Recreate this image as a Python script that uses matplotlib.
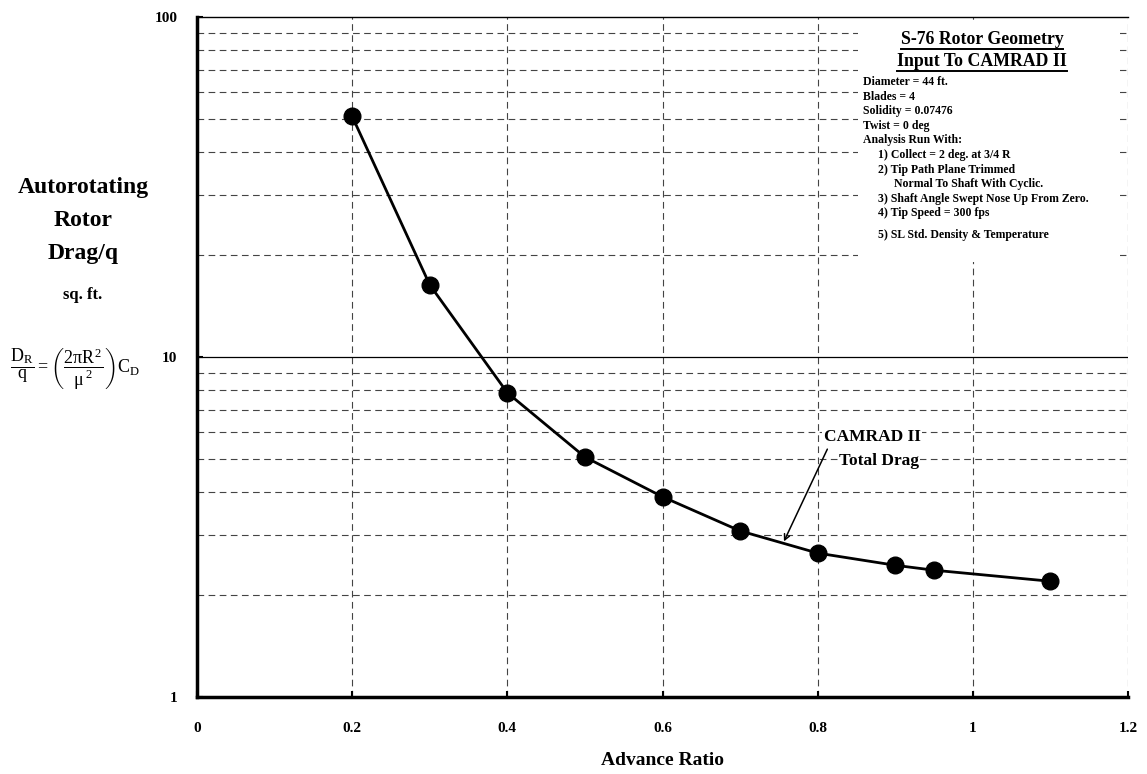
import matplotlib
matplotlib.use("Agg")
import matplotlib.pyplot as plt
from matplotlib.lines import Line2D
from matplotlib.patches import Rectangle

plt.rcParams['font.family'] = ['Liberation Serif', 'DejaVu Serif']
plt.rcParams['mathtext.fontset'] = 'custom'
plt.rcParams['mathtext.rm'] = 'Liberation Serif'
plt.rcParams['mathtext.it'] = 'Liberation Serif'

# data
advance_ratio = [0.2, 0.3, 0.4, 0.5, 0.6, 0.7, 0.8, 0.9, 0.95, 1.1]
drag_q = [51.0, 16.3, 7.85, 5.08, 3.88, 3.08, 2.65, 2.44, 2.36, 2.19]

x_ticks = [0, 0.2, 0.4, 0.6, 0.8, 1.0, 1.2]
x_tick_labels = ['0', '0.2', '0.4', '0.6', '0.8', '1', '1.2']
y_ticks = [1, 10, 100]
y_tick_labels = ['1', '10', '100']
minor_levels = [2, 3, 4, 5, 6, 7, 8, 9, 20, 30, 40, 50, 60, 70, 80, 90]

box_title = ['S-76 Rotor Geometry', 'Input To CAMRAD II']
box_lines = [
    ('Diameter = 44 ft.', 0),
    ('Blades = 4', 0),
    ('Solidity = 0.07476', 0),
    ('Twist = 0 deg', 0),
    ('Analysis Run With:', 0),
    ('1) Collect = 2 deg. at 3/4 R', 1),
    ('2) Tip Path Plane Trimmed', 1),
    ('Normal To Shaft With Cyclic.', 2),
    ('3) Shaft Angle Swept Nose Up From Zero.', 1),
    ('4) Tip Speed = 300 fps', 1),
    ('5) SL Std. Density & Temperature', 1),
]

W, H = 1147, 774
fig = plt.figure(figsize=(W / 100, H / 100), dpi=100)
ax = fig.add_axes([197 / W, 1 - 697 / H, (1128 - 197) / W, (697 - 17) / H])

ax.set_yscale('log')
ax.set_xlim(0, 1.2)
ax.set_ylim(1, 100)

grid_kw = dict(color='#444444', lw=0.8, dashes=(6, 4), zorder=1)
for v in minor_levels:
    ax.axhline(v, **grid_kw)
for v in x_ticks[1:]:
    ax.axvline(v, **grid_kw)
ax.axhline(10, color='k', lw=0.9, zorder=1)

ax.set_xticks(x_ticks)
ax.set_xticklabels(x_tick_labels, fontweight='bold', fontsize=11)
ax.set_yticks(y_ticks)
ax.set_yticklabels(y_tick_labels, fontweight='bold', fontsize=11)
ax.yaxis.set_minor_locator(matplotlib.ticker.NullLocator())
ax.tick_params(axis='both', direction='in', length=4, width=1.5)
ax.tick_params(axis='x', pad=18)
ax.tick_params(axis='y', pad=14)

for s in ['left', 'bottom']:
    ax.spines[s].set_linewidth(2.5)
ax.spines['top'].set_linewidth(1.0)
ax.spines['right'].set_visible(False)

ax.plot(advance_ratio, drag_q, color='k', lw=2, marker='o', ms=12, zorder=4)

ax.annotate('', xy=(0.755, 2.82), xytext=(0.814, 5.45),
            arrowprops=dict(arrowstyle='->', color='k', lw=1.1), zorder=5)
wb = dict(facecolor='white', edgecolor='none', pad=1)
ax.text(0.87, 5.8, 'CAMRAD II', ha='center', va='center', fontweight='bold',
        fontsize=12.5, bbox=wb, zorder=3)
ax.text(0.879, 4.95, 'Total Drag', ha='center', va='center', fontweight='bold',
        fontsize=12.5, bbox=wb, zorder=3)

ax.set_xlabel('Advance Ratio', fontweight='bold', fontsize=14, labelpad=12)

# white box behind the geometry notes
fig.patches.append(Rectangle((858 / W, 1 - 262 / H), (1120 - 858) / W, (262 - 23) / H,
                             transform=fig.transFigure, facecolor='white',
                             edgecolor='none', zorder=3))

title_y = [39, 61]
title_texts = []
for t, y in zip(box_title, title_y):
    title_texts.append(fig.text(982 / W, 1 - y / H, t, ha='center', va='center',
                                fontweight='bold', fontsize=12.8, zorder=4))

indent = {0: 863, 1: 878, 2: 894}
for i, (t, lev) in enumerate(box_lines):
    y = 82 + i * 14.6
    if i == 10:
        y += 7
    fig.text(indent[lev] / W, 1 - y / H, t, ha='left', va='center',
             fontweight='bold', fontsize=8.5, zorder=4)

fig.text(83 / W, 1 - 187 / H, 'Autorotating', ha='center', va='center', fontweight='bold', fontsize=17)
fig.text(83 / W, 1 - 220 / H, 'Rotor', ha='center', va='center', fontweight='bold', fontsize=17)
fig.text(83 / W, 1 - 253 / H, 'Drag/q', ha='center', va='center', fontweight='bold', fontsize=17)
fig.text(83 / W, 1 - 295 / H, 'sq. ft.', ha='center', va='center', fontweight='bold', fontsize=12)
fig.text(75 / W, 1 - 369 / H,
         r'$\dfrac{\mathrm{D_R}}{\mathrm{q}} = \left(\dfrac{2\pi\mathrm{R}^{\,2}}{\mu^{\,2}}\right)\mathrm{C_D}$',
         ha='center', va='center', fontsize=13)

# underline the box titles
fig.canvas.draw()
r = fig.canvas.get_renderer()
for t in title_texts:
    bb = t.get_window_extent(r)
    yl = (bb.y0 - 1) / H
    fig.lines.append(Line2D([bb.x0 / W, bb.x1 / W], [yl, yl], transform=fig.transFigure,
                            color='k', lw=1.4, zorder=5))

fig.savefig('out.png', dpi=100)
